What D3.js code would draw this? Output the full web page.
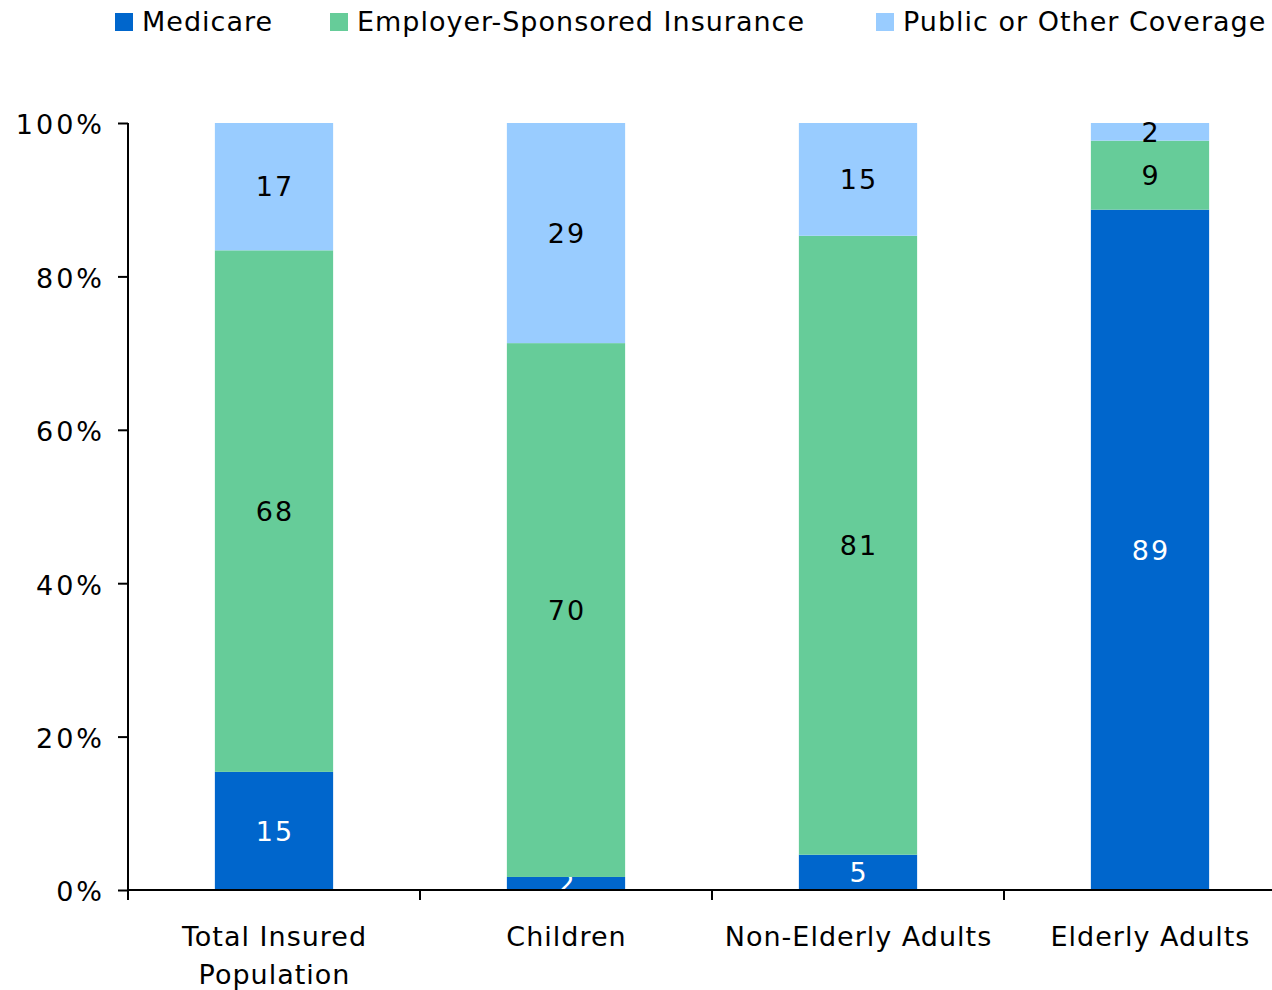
<!DOCTYPE html>
<html><head><meta charset="utf-8">
<script src="https://cdn.jsdelivr.net/npm/d3@7"></script>
<style>body{margin:0;background:#fff;overflow:hidden}svg{display:block;font-family:"DejaVu Sans",Verdana,sans-serif}</style>
</head><body>
<svg id="c" width="1272" height="990"></svg>
<script>
const categories = [["Total Insured","Population"],["Children"],["Non-Elderly Adults"],["Elderly Adults"]];
const seriesNames = ["Medicare","Employer-Sponsored Insurance","Public or Other Coverage"];
// shares in percent; labels show them rounded
const medicare = [15.4, 1.7, 4.6, 88.7];
const employer = [68.0, 69.6, 80.7, 9.0];
const publicOther = [16.6, 28.7, 14.7, 2.3];
const yTicks = [0, 0.2, 0.4, 0.6, 0.8, 1.0];
const colors = ["#0066CC", "#66CC99", "#99CCFF"];
const labelColors = ["#ffffff", "#000000", "#000000"];

const svg = d3.select("#c");
const keys = ["m","e","p"];
const rows = categories.map((c,i)=>({cat:c.join(" "), m:medicare[i], e:employer[i], p:publicOther[i]}));
const stack = d3.stack().keys(keys).offset(d3.stackOffsetExpand)(rows);

const x = d3.scaleBand().domain(rows.map(r=>r.cat)).range([128, 1296]).padding(0);
const y = d3.scaleLinear().domain([0,1]).range([890, 123]);
const barW = x.bandwidth()*0.405;
const fs = 27;
const ls = 1, lsNum = 2, lsTick = 3;

// bars
stack.forEach((s,si)=>{
  const g = svg.append("g");
  g.selectAll("rect").data(s).enter().append("rect")
    .attr("x", d=>x(d.data.cat)+x.bandwidth()/2-barW/2)
    .attr("width", barW)
    .attr("y", d=>y(d[1]))
    .attr("height", d=>y(d[0])-y(d[1]))
    .attr("fill", colors[si]);
  g.selectAll("text").data(s).enter().append("text")
    .attr("x", d=>x(d.data.cat)+x.bandwidth()/2 + lsNum/2)
    .attr("y", d=>(y(d[0])+y(d[1]))/2)
    .attr("dy","0.36em")
    .attr("text-anchor","middle")
    .attr("font-size", fs)
    .attr("letter-spacing", lsNum)
    .attr("fill", labelColors[si])
    .text(d=>Math.round(d.data[keys[si]]));
});

// y axis
const yAxis = d3.axisLeft(y).tickValues(yTicks).tickFormat(d3.format(".0%")).tickSize(10).tickPadding(16);
const ga = svg.append("g").attr("transform","translate(128,0)").call(yAxis);
ga.select(".domain").attr("stroke","#000").attr("stroke-width",2).attr("d","M0,123V890");
ga.selectAll(".tick line").attr("stroke","#000").attr("stroke-width",2);
ga.selectAll(".tick text").attr("font-size",fs).attr("fill","#000")
  .attr("font-family","DejaVu Sans, Verdana, sans-serif")
  .attr("letter-spacing", lsTick).attr("dx", lsTick).attr("dy","0.4em");

// x axis
const gx = svg.append("g");
gx.append("line").attr("x1",128).attr("x2",1296).attr("y1",890).attr("y2",890).attr("stroke","#000").attr("stroke-width",2);
const bounds = rows.map(r=>x(r.cat)).concat([x.range()[1]]);
gx.selectAll("line.t").data(bounds).enter().append("line").attr("class","t")
  .attr("x1",d=>d).attr("x2",d=>d).attr("y1",890).attr("y2",900).attr("stroke","#000").attr("stroke-width",2);
categories.forEach((c,i)=>{
  const cx = x(rows[i].cat)+x.bandwidth()/2 + ls/2;
  const t = gx.append("text").attr("x", cx).attr("y", 946)
    .attr("text-anchor","middle").attr("font-size",fs).attr("letter-spacing",ls).attr("fill","#000");
  c.forEach((line,j)=>t.append("tspan").attr("x", cx).attr("dy", j===0?0:38).text(line));
});

// legend
const legendX = [115, 330, 876];
const lg = svg.append("g");
seriesNames.forEach((n,i)=>{
  lg.append("rect").attr("x",legendX[i]).attr("y",13).attr("width",18).attr("height",18).attr("fill",colors[i]);
  lg.append("text").attr("x",legendX[i]+27).attr("y",31).attr("font-size",fs).attr("letter-spacing",ls).attr("fill","#000").text(n);
});
</script>
</body></html>
